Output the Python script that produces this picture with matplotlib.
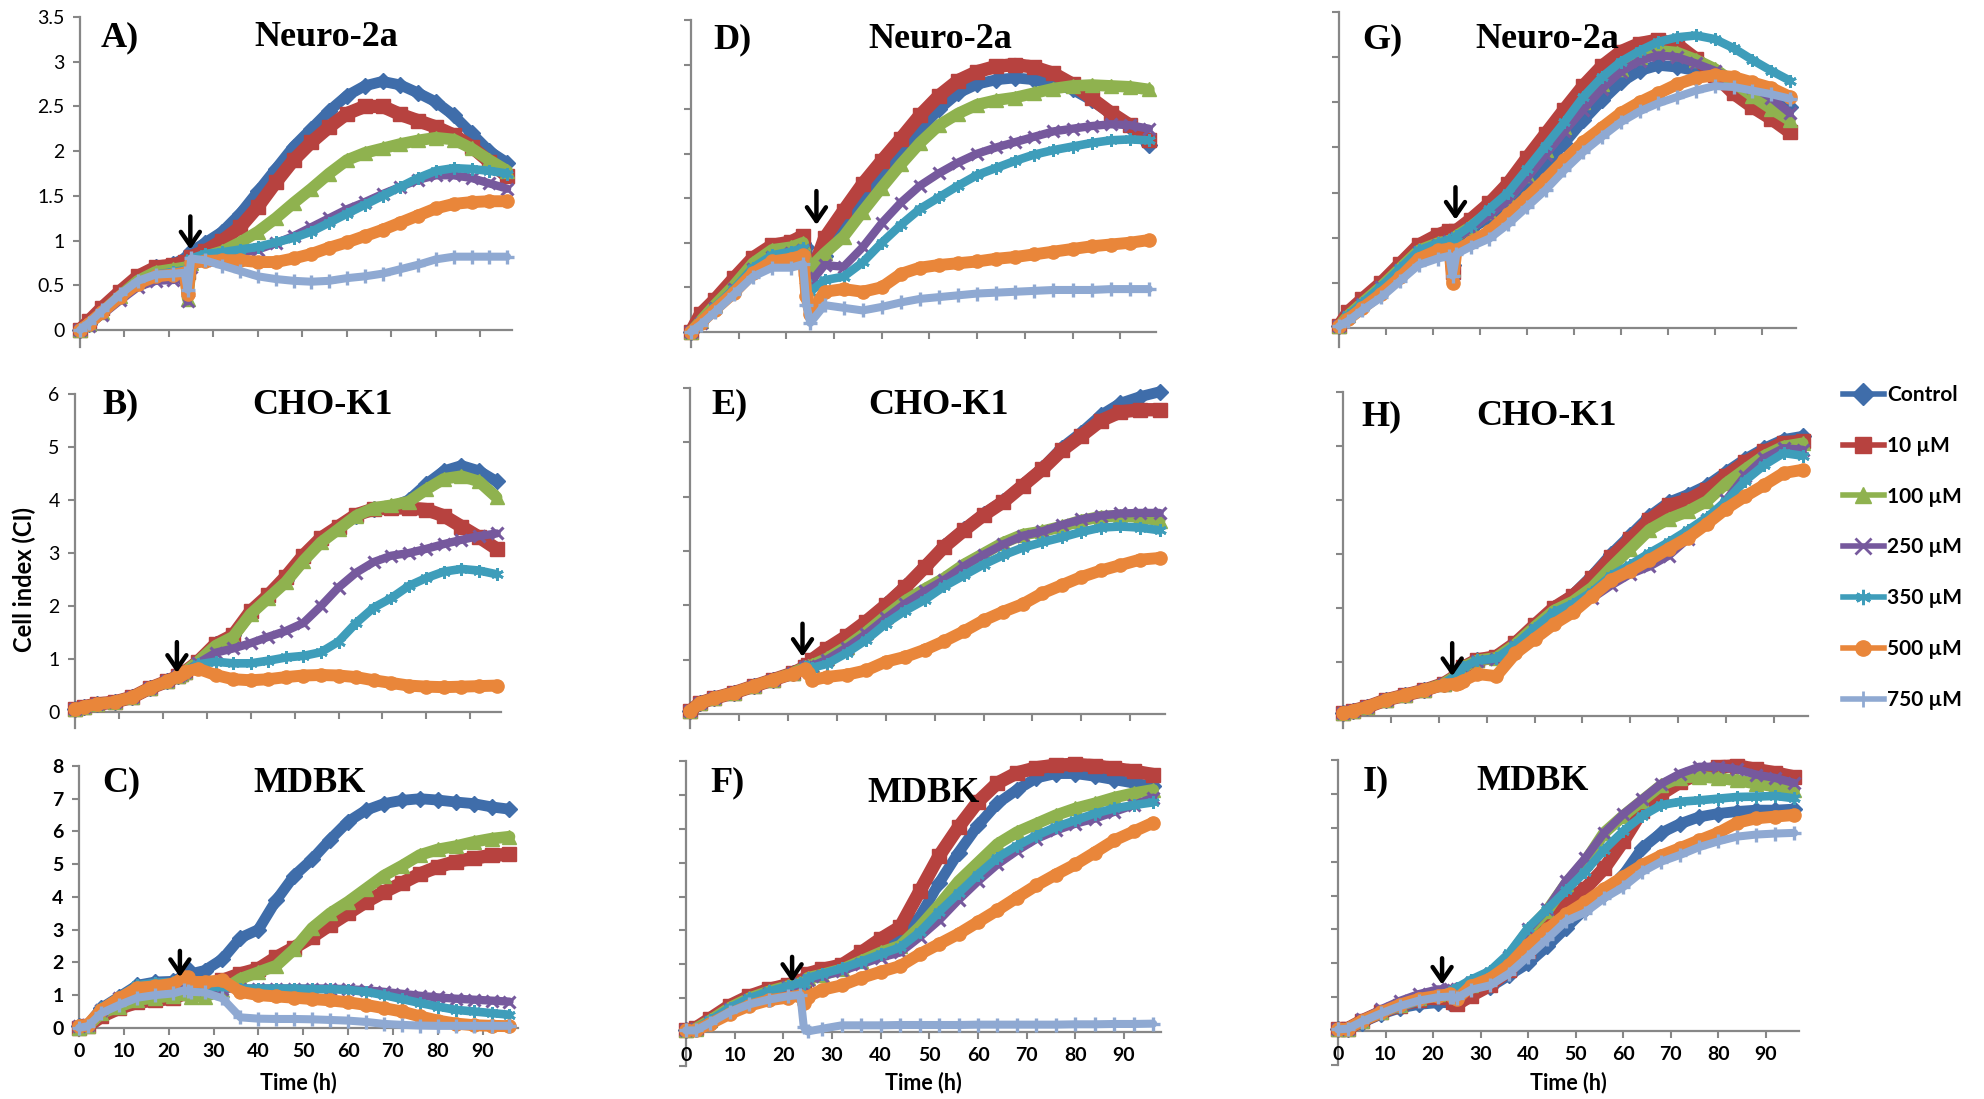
import matplotlib
matplotlib.use('Agg')
import matplotlib.pyplot as plt
from matplotlib.lines import Line2D
from matplotlib.ticker import FuncFormatter
import numpy as np

# ---------------- data ----------------
T = [0, 2, 5, 9, 13, 17, 21, 23.5, 24.2, 25, 28, 32, 36, 40, 44, 48, 52, 56, 60,
     64, 68, 72, 76, 80, 84, 88, 92, 96]

SERIES = ['Control', '10 µM', '100 µM', '250 µM', '350 µM', '500 µM', '750 µM']

# A) Neuro-2a
A_ctrl = [0, 0.07, 0.22, 0.40, 0.58, 0.70, 0.74, 0.80, 0.78, 0.88, 0.97, 1.10, 1.30, 1.55, 1.80, 2.05, 2.25, 2.45, 2.62, 2.73, 2.78, 2.74, 2.65, 2.55, 2.40, 2.20, 2.00, 1.87]
A_10 = [0, 0.10, 0.25, 0.43, 0.60, 0.70, 0.73, 0.76, 0.65, 0.82, 0.88, 1.00, 1.15, 1.38, 1.65, 1.90, 2.10, 2.27, 2.42, 2.50, 2.50, 2.41, 2.34, 2.27, 2.18, 2.05, 1.88, 1.72]
A_100 = [0, 0.07, 0.20, 0.38, 0.55, 0.65, 0.68, 0.70, 0.35, 0.75, 0.82, 0.88, 0.98, 1.10, 1.25, 1.42, 1.58, 1.75, 1.90, 1.98, 2.03, 2.08, 2.12, 2.15, 2.13, 2.03, 1.90, 1.78]
A_250 = [0, 0.05, 0.17, 0.33, 0.48, 0.55, 0.56, 0.58, 0.32, 0.70, 0.78, 0.82, 0.86, 0.90, 0.97, 1.05, 1.15, 1.25, 1.35, 1.43, 1.52, 1.60, 1.68, 1.73, 1.73, 1.70, 1.64, 1.58]
A_350 = [0, 0.06, 0.20, 0.37, 0.53, 0.62, 0.65, 0.67, 0.40, 0.80, 0.85, 0.87, 0.90, 0.93, 0.98, 1.03, 1.10, 1.20, 1.30, 1.40, 1.50, 1.60, 1.70, 1.78, 1.81, 1.80, 1.78, 1.75]
A_500 = [0, 0.07, 0.20, 0.37, 0.52, 0.60, 0.62, 0.64, 0.40, 0.75, 0.77, 0.78, 0.78, 0.76, 0.76, 0.80, 0.85, 0.92, 0.98, 1.05, 1.12, 1.20, 1.28, 1.36, 1.41, 1.43, 1.44, 1.44]
A_750 = [0, 0.08, 0.22, 0.40, 0.55, 0.62, 0.63, 0.64, 0.45, 0.80, 0.78, 0.72, 0.66, 0.60, 0.57, 0.55, 0.54, 0.55, 0.58, 0.60, 0.63, 0.68, 0.73, 0.79, 0.82, 0.82, 0.82, 0.82]

# B) CHO-K1 (no 750 µM curve)
B_ctrl = [0.05, 0.10, 0.15, 0.19, 0.28, 0.45, 0.58, 0.68, 0.72, 0.76, 0.95, 1.28, 1.45, 1.90, 2.20, 2.50, 2.90, 3.25, 3.50, 3.70, 3.83, 3.87, 4.00, 4.30, 4.55, 4.65, 4.55, 4.35]
B_10 = [0.05, 0.10, 0.15, 0.19, 0.28, 0.45, 0.58, 0.68, 0.72, 0.76, 0.95, 1.28, 1.45, 1.90, 2.20, 2.55, 2.95, 3.28, 3.50, 3.72, 3.83, 3.85, 3.85, 3.82, 3.70, 3.50, 3.30, 3.08]
B_100 = [0.05, 0.10, 0.15, 0.19, 0.28, 0.45, 0.58, 0.68, 0.72, 0.76, 0.95, 1.25, 1.42, 1.85, 2.15, 2.45, 2.85, 3.20, 3.45, 3.70, 3.85, 3.90, 3.97, 4.20, 4.40, 4.45, 4.35, 4.05]
B_250 = [0.05, 0.10, 0.15, 0.19, 0.28, 0.45, 0.58, 0.68, 0.72, 0.76, 0.92, 1.12, 1.20, 1.30, 1.42, 1.53, 1.68, 2.00, 2.35, 2.63, 2.83, 2.95, 3.00, 3.08, 3.17, 3.25, 3.32, 3.37]
B_350 = [0.05, 0.10, 0.15, 0.19, 0.28, 0.45, 0.58, 0.68, 0.72, 0.76, 0.90, 0.95, 0.92, 0.92, 0.97, 1.03, 1.06, 1.13, 1.33, 1.68, 1.97, 2.15, 2.38, 2.53, 2.65, 2.70, 2.67, 2.60]
B_500 = [0.05, 0.10, 0.15, 0.19, 0.28, 0.45, 0.58, 0.68, 0.72, 0.76, 0.82, 0.70, 0.62, 0.60, 0.62, 0.66, 0.69, 0.70, 0.69, 0.66, 0.60, 0.55, 0.50, 0.48, 0.47, 0.48, 0.49, 0.50]
B_750 = None

# C) MDBK
C_ctrl = [0.05, 0.10, 0.60, 0.95, 1.30, 1.40, 1.42, 1.60, 1.80, 1.65, 1.75, 2.10, 2.75, 3.00, 3.90, 4.65, 5.15, 5.75, 6.30, 6.65, 6.85, 6.95, 7.00, 6.96, 6.90, 6.85, 6.75, 6.68]
C_10 = [0.00, 0.05, 0.35, 0.60, 0.78, 0.85, 0.90, 1.05, 1.10, 1.05, 1.30, 1.45, 1.65, 1.80, 2.15, 2.45, 2.78, 3.15, 3.50, 3.85, 4.15, 4.42, 4.70, 4.92, 5.08, 5.18, 5.27, 5.30]
C_100 = [0.00, 0.05, 0.45, 0.65, 0.85, 0.92, 0.98, 1.05, 1.10, 0.95, 0.95, 1.15, 1.50, 1.70, 1.90, 2.40, 3.05, 3.50, 3.85, 4.25, 4.65, 4.95, 5.28, 5.45, 5.55, 5.68, 5.78, 5.84]
C_250 = [0.05, 0.10, 0.55, 0.90, 1.20, 1.30, 1.35, 1.40, 1.35, 1.25, 1.20, 1.20, 1.20, 1.20, 1.20, 1.20, 1.20, 1.20, 1.18, 1.15, 1.10, 1.04, 0.98, 0.93, 0.89, 0.86, 0.83, 0.80]
C_350 = [0.05, 0.10, 0.60, 0.95, 1.30, 1.38, 1.40, 1.45, 1.40, 1.30, 1.25, 1.25, 1.20, 1.20, 1.20, 1.20, 1.18, 1.18, 1.16, 1.10, 1.00, 0.88, 0.76, 0.65, 0.55, 0.50, 0.45, 0.40]
C_500 = [0.05, 0.10, 0.55, 0.90, 1.22, 1.27, 1.35, 1.55, 1.55, 1.40, 1.40, 1.45, 1.10, 1.00, 0.96, 0.92, 0.88, 0.84, 0.78, 0.70, 0.60, 0.50, 0.35, 0.22, 0.13, 0.08, 0.06, 0.05]
C_750 = [0.00, 0.05, 0.45, 0.70, 0.92, 1.00, 1.05, 1.15, 1.12, 1.10, 1.08, 0.90, 0.32, 0.28, 0.27, 0.27, 0.26, 0.24, 0.22, 0.18, 0.12, 0.09, 0.07, 0.06, 0.06, 0.06, 0.06, 0.06]

# D) Neuro-2a
D_ctrl = [0, 0.12, 0.30, 0.52, 0.76, 0.90, 0.94, 1.00, 0.95, 0.70, 0.85, 1.17, 1.47, 1.73, 2.02, 2.27, 2.50, 2.68, 2.78, 2.83, 2.85, 2.83, 2.78, 2.72, 2.60, 2.45, 2.30, 2.10]
D_10 = [0, 0.20, 0.36, 0.60, 0.83, 0.97, 1.01, 1.08, 0.70, 0.60, 1.05, 1.36, 1.66, 1.92, 2.17, 2.43, 2.65, 2.82, 2.92, 2.98, 3.00, 2.97, 2.90, 2.78, 2.62, 2.46, 2.32, 2.15]
D_100 = [0, 0.12, 0.30, 0.52, 0.77, 0.92, 0.95, 1.00, 0.80, 0.72, 0.88, 1.07, 1.35, 1.62, 1.88, 2.12, 2.32, 2.45, 2.55, 2.60, 2.63, 2.68, 2.73, 2.76, 2.77, 2.76, 2.75, 2.72]
D_250 = [0, 0.10, 0.27, 0.48, 0.70, 0.84, 0.88, 0.92, 0.60, 0.55, 0.75, 0.73, 0.95, 1.22, 1.45, 1.64, 1.78, 1.90, 2.00, 2.07, 2.13, 2.19, 2.25, 2.28, 2.31, 2.33, 2.32, 2.28]
D_350 = [0, 0.12, 0.28, 0.48, 0.72, 0.86, 0.90, 0.94, 0.55, 0.45, 0.58, 0.62, 0.78, 1.00, 1.20, 1.38, 1.51, 1.64, 1.76, 1.84, 1.92, 1.99, 2.04, 2.08, 2.12, 2.15, 2.16, 2.15]
D_500 = [0, 0.10, 0.25, 0.44, 0.66, 0.79, 0.82, 0.86, 0.40, 0.20, 0.45, 0.48, 0.45, 0.50, 0.65, 0.72, 0.75, 0.77, 0.79, 0.82, 0.84, 0.87, 0.90, 0.93, 0.96, 0.98, 1.00, 1.03]
D_750 = [0, 0.08, 0.22, 0.42, 0.62, 0.72, 0.72, 0.76, 0.30, 0.10, 0.30, 0.27, 0.24, 0.28, 0.33, 0.37, 0.39, 0.41, 0.43, 0.44, 0.45, 0.46, 0.47, 0.47, 0.47, 0.48, 0.48, 0.48]

# E) CHO-K1 (no 750 µM curve)
E_ctrl = [0.05, 0.20, 0.29, 0.39, 0.51, 0.63, 0.75, 0.86, 0.90, 1.00, 1.20, 1.43, 1.70, 2.02, 2.35, 2.72, 3.10, 3.40, 3.68, 3.92, 4.22, 4.52, 4.90, 5.18, 5.50, 5.72, 5.84, 5.93]
E_10 = [0.05, 0.20, 0.29, 0.39, 0.51, 0.63, 0.75, 0.86, 0.90, 1.00, 1.20, 1.43, 1.70, 2.00, 2.33, 2.70, 3.08, 3.38, 3.66, 3.90, 4.20, 4.50, 4.85, 5.12, 5.40, 5.56, 5.60, 5.60]
E_100 = [0.05, 0.20, 0.29, 0.39, 0.51, 0.63, 0.75, 0.86, 0.88, 0.90, 1.02, 1.24, 1.50, 1.80, 2.08, 2.30, 2.50, 2.75, 2.95, 3.15, 3.30, 3.36, 3.45, 3.56, 3.63, 3.65, 3.62, 3.56]
E_250 = [0.05, 0.20, 0.29, 0.39, 0.51, 0.63, 0.75, 0.86, 0.88, 0.88, 1.00, 1.22, 1.47, 1.76, 2.03, 2.26, 2.47, 2.72, 2.93, 3.12, 3.28, 3.36, 3.48, 3.58, 3.65, 3.69, 3.70, 3.70]
E_350 = [0.05, 0.20, 0.29, 0.39, 0.51, 0.63, 0.75, 0.86, 0.87, 0.85, 0.92, 1.12, 1.36, 1.66, 1.90, 2.10, 2.35, 2.55, 2.75, 2.92, 3.06, 3.16, 3.25, 3.35, 3.43, 3.45, 3.43, 3.38]
E_500 = [0.05, 0.20, 0.29, 0.39, 0.51, 0.63, 0.74, 0.82, 0.75, 0.62, 0.68, 0.72, 0.80, 0.96, 1.05, 1.18, 1.34, 1.52, 1.72, 1.88, 2.02, 2.22, 2.37, 2.52, 2.64, 2.74, 2.84, 2.87]
E_750 = None

# F) MDBK
F_ctrl = [0.05, 0.10, 0.35, 0.72, 1.00, 1.20, 1.35, 1.45, 1.42, 1.62, 1.75, 1.90, 2.20, 2.45, 2.70, 3.40, 4.40, 5.30, 6.10, 6.75, 7.15, 7.50, 7.63, 7.63, 7.55, 7.45, 7.35, 7.25]
F_10 = [0.05, 0.12, 0.40, 0.78, 1.06, 1.26, 1.40, 1.50, 1.50, 1.72, 1.85, 1.98, 2.35, 2.75, 3.10, 4.15, 5.20, 6.05, 6.80, 7.35, 7.65, 7.80, 7.88, 7.90, 7.86, 7.78, 7.70, 7.60]
F_100 = [0.05, 0.10, 0.35, 0.72, 1.00, 1.20, 1.36, 1.45, 1.42, 1.60, 1.70, 1.85, 2.10, 2.35, 2.55, 3.10, 3.75, 4.45, 5.00, 5.55, 5.90, 6.15, 6.40, 6.60, 6.75, 6.92, 7.05, 7.15]
F_250 = [0.05, 0.08, 0.30, 0.68, 0.96, 1.16, 1.32, 1.42, 1.40, 1.55, 1.65, 1.80, 2.00, 2.20, 2.35, 2.80, 3.30, 3.90, 4.45, 4.95, 5.35, 5.70, 5.95, 6.15, 6.30, 6.50, 6.70, 6.92]
F_350 = [0.05, 0.10, 0.35, 0.72, 1.00, 1.20, 1.36, 1.46, 1.42, 1.60, 1.72, 1.88, 2.08, 2.30, 2.50, 2.95, 3.55, 4.10, 4.65, 5.15, 5.50, 5.80, 6.05, 6.25, 6.45, 6.60, 6.70, 6.78]
F_500 = [0.05, 0.05, 0.25, 0.54, 0.78, 0.94, 1.02, 1.08, 0.85, 1.05, 1.25, 1.38, 1.60, 1.78, 1.95, 2.30, 2.60, 2.90, 3.25, 3.60, 3.97, 4.33, 4.65, 4.95, 5.30, 5.66, 5.92, 6.18]
F_750 = [0.05, 0.05, 0.28, 0.60, 0.82, 0.96, 1.06, 1.10, 0.15, 0.02, 0.10, 0.20, 0.20, 0.20, 0.21, 0.21, 0.21, 0.21, 0.22, 0.22, 0.22, 0.22, 0.22, 0.23, 0.23, 0.24, 0.24, 0.25]

# G) Neuro-2a
G_ctrl = [0.02, 0.12, 0.27, 0.45, 0.64, 0.85, 0.92, 0.96, 0.70, 1.00, 1.10, 1.22, 1.35, 1.58, 1.80, 2.05, 2.30, 2.52, 2.72, 2.85, 2.91, 2.89, 2.85, 2.80, 2.74, 2.68, 2.60, 2.45]
G_10 = [0.02, 0.18, 0.32, 0.50, 0.71, 0.92, 1.03, 1.08, 0.62, 1.08, 1.20, 1.38, 1.60, 1.88, 2.15, 2.42, 2.68, 2.90, 3.06, 3.15, 3.19, 3.14, 2.98, 2.80, 2.60, 2.45, 2.32, 2.17]
G_100 = [0.02, 0.14, 0.28, 0.46, 0.66, 0.86, 0.94, 0.97, 0.65, 1.02, 1.12, 1.28, 1.45, 1.70, 1.97, 2.23, 2.50, 2.70, 2.87, 3.00, 3.07, 3.05, 2.97, 2.87, 2.72, 2.57, 2.43, 2.30]
G_250 = [0.02, 0.12, 0.27, 0.45, 0.64, 0.84, 0.92, 0.96, 0.60, 1.00, 1.10, 1.25, 1.42, 1.66, 1.92, 2.18, 2.42, 2.65, 2.84, 2.96, 3.02, 3.00, 2.93, 2.85, 2.76, 2.67, 2.55, 2.38]
G_350 = [0.02, 0.14, 0.28, 0.46, 0.66, 0.86, 0.94, 0.98, 0.70, 1.02, 1.13, 1.32, 1.50, 1.76, 2.02, 2.28, 2.56, 2.78, 2.95, 3.07, 3.17, 3.22, 3.24, 3.20, 3.10, 2.97, 2.85, 2.74]
G_500 = [0.02, 0.10, 0.22, 0.38, 0.56, 0.77, 0.86, 0.88, 0.50, 0.86, 0.95, 1.07, 1.26, 1.45, 1.65, 1.86, 2.06, 2.22, 2.38, 2.50, 2.60, 2.70, 2.77, 2.80, 2.78, 2.72, 2.66, 2.56]
G_750 = [0.02, 0.08, 0.20, 0.34, 0.52, 0.70, 0.77, 0.80, 0.58, 0.82, 0.90, 0.99, 1.15, 1.34, 1.53, 1.75, 1.95, 2.12, 2.28, 2.40, 2.49, 2.56, 2.63, 2.68, 2.67, 2.63, 2.59, 2.54]

# H) CHO-K1 (no 750 µM curve)
H_ctrl = [0.05, 0.10, 0.17, 0.30, 0.39, 0.48, 0.60, 0.74, 0.80, 0.90, 1.04, 1.10, 1.35, 1.68, 2.00, 2.25, 2.60, 3.00, 3.35, 3.70, 3.96, 4.10, 4.27, 4.52, 4.76, 4.96, 5.12, 5.18]
H_10 = [0.05, 0.10, 0.17, 0.30, 0.39, 0.48, 0.60, 0.74, 0.80, 0.90, 1.04, 1.10, 1.35, 1.68, 2.00, 2.22, 2.55, 2.94, 3.28, 3.63, 3.90, 4.00, 4.19, 4.45, 4.70, 4.90, 5.06, 5.09]
H_100 = [0.05, 0.10, 0.17, 0.30, 0.39, 0.48, 0.60, 0.74, 0.80, 0.90, 1.03, 1.08, 1.33, 1.65, 1.95, 2.12, 2.38, 2.75, 3.10, 3.45, 3.65, 3.79, 3.98, 4.31, 4.57, 4.82, 4.99, 5.05]
H_250 = [0.05, 0.10, 0.17, 0.30, 0.39, 0.48, 0.60, 0.74, 0.80, 0.90, 1.02, 1.06, 1.30, 1.60, 1.85, 2.00, 2.18, 2.42, 2.63, 2.77, 2.97, 3.28, 3.63, 4.00, 4.45, 4.78, 4.96, 4.93]
H_350 = [0.05, 0.10, 0.17, 0.30, 0.39, 0.48, 0.60, 0.74, 0.80, 0.90, 1.03, 1.07, 1.32, 1.63, 1.92, 2.08, 2.30, 2.60, 2.80, 3.02, 3.22, 3.44, 3.68, 3.98, 4.36, 4.65, 4.87, 4.82]
H_500 = [0.05, 0.10, 0.17, 0.30, 0.39, 0.48, 0.58, 0.60, 0.62, 0.65, 0.78, 0.74, 1.16, 1.43, 1.70, 1.92, 2.22, 2.52, 2.69, 2.89, 3.10, 3.30, 3.56, 3.84, 4.07, 4.28, 4.50, 4.56]
H_750 = None

# I) MDBK
I_ctrl = [0.05, 0.07, 0.25, 0.50, 0.68, 0.79, 0.84, 0.84, 0.85, 0.90, 1.12, 1.30, 1.65, 2.00, 2.50, 3.05, 3.60, 4.05, 4.60, 5.40, 5.85, 6.12, 6.32, 6.42, 6.48, 6.52, 6.52, 6.55]
I_10 = [0.05, 0.07, 0.30, 0.55, 0.75, 0.92, 1.00, 1.00, 0.85, 0.79, 1.05, 1.35, 1.80, 2.35, 3.15, 3.84, 4.20, 4.80, 5.60, 6.50, 7.00, 7.35, 7.60, 7.80, 7.83, 7.72, 7.62, 7.50]
I_100 = [0.05, 0.07, 0.30, 0.55, 0.78, 0.97, 1.10, 1.15, 1.12, 1.20, 1.35, 1.60, 2.20, 2.95, 3.55, 4.35, 5.00, 5.85, 6.35, 6.80, 7.25, 7.48, 7.51, 7.46, 7.40, 7.30, 7.22, 7.12]
I_250 = [0.05, 0.07, 0.35, 0.64, 0.89, 1.09, 1.23, 1.23, 1.20, 1.25, 1.42, 1.68, 2.20, 3.00, 3.60, 4.44, 5.10, 5.85, 6.40, 6.85, 7.30, 7.60, 7.80, 7.80, 7.72, 7.57, 7.47, 7.32]
I_350 = [0.05, 0.07, 0.25, 0.50, 0.70, 0.88, 1.05, 1.15, 1.20, 1.28, 1.52, 1.78, 2.30, 3.05, 3.60, 4.15, 4.70, 5.35, 5.90, 6.35, 6.67, 6.77, 6.81, 6.86, 6.91, 6.92, 6.94, 6.87]
I_500 = [0.05, 0.07, 0.30, 0.55, 0.78, 0.95, 1.04, 1.09, 1.00, 0.94, 1.33, 1.55, 1.95, 2.55, 3.00, 3.45, 3.80, 4.20, 4.55, 4.90, 5.18, 5.40, 5.63, 5.85, 6.15, 6.28, 6.33, 6.38]
I_750 = [0.05, 0.07, 0.28, 0.52, 0.74, 0.90, 1.00, 1.02, 1.00, 0.98, 1.22, 1.35, 1.70, 2.20, 2.72, 3.25, 3.50, 3.92, 4.25, 4.70, 5.00, 5.20, 5.43, 5.60, 5.74, 5.80, 5.83, 5.85]

# ---------------- style ----------------
COLORS = ['#3F6DAA', '#B7423F', '#8FB24F', '#76599D', '#3E9DBA', '#E9863A', '#8FA9D2']
MARKERS = ['D', 's', '^', 'x', (6, 2, 0), 'o', '+']
LWS = [7.8, 9.6, 8.4, 6.0, 6.2, 8.6, 5.8]
MSS = [8.5, 9.5, 9.5, 8.5, 9.0, 9.5, 10.0]
MEW = [1, 1, 1, 2.2, 2.0, 1, 2.4]
AXC = '#878787'

W, H = 1984, 1099
fig = plt.figure(figsize=(W / 100, H / 100), dpi=100)
fig.patch.set_facecolor('white')

TICK_FONT = 'Lato'
SERIF = 'Liberation Serif'
TSIZE = 26

panels = [
    # key, title, data, (left, right, bottom_px, top_px), ylim, ystep, xmax, row, col, arrow(t, ytop, ybot), letter pos, title pos
    ('A', 'Neuro-2a', [A_ctrl, A_10, A_100, A_250, A_350, A_500, A_750], (80, 512, 347, 17), (-0.19, 3.5), 0.5, 97.1, 0, 0, (24.8, 1.27, 0.90), (101, 38), (326, 38)),
    ('B', 'CHO-K1', [B_ctrl, B_10, B_100, B_250, B_350, B_500, B_750], (75, 501, 728, 394), (-0.3, 6), 1, 97.0, 1, 0, (23.2, 1.32, 0.74), (102, 405), (323, 405)),
    ('C', 'MDBK', [C_ctrl, C_10, C_100, C_250, C_350, C_500, C_750], (79, 518, 1036, 766), (-0.25, 8), 1, 97.9, 2, 0, (22.5, 2.35, 1.55), (102, 783), (310, 783)),
    ('D', 'Neuro-2a', [D_ctrl, D_10, D_100, D_250, D_350, D_500, D_750], (691, 1156, 347, 20), (-0.17, 3.5), 0.5, 97.5, 0, 1, (26.3, 1.58, 1.20), (713, 40), (940, 40)),
    ('E', 'CHO-K1', [E_ctrl, E_10, E_100, E_250, E_350, E_500, E_750], (690, 1165, 728, 388), (-0.26, 6), 1, 97.1, 1, 1, (23.0, 1.66, 1.05), (711, 405), (938, 405)),
    ('F', 'MDBK', [F_ctrl, F_10, F_100, F_250, F_350, F_500, F_750], (686, 1161, 1066, 761), (-1, 8), 1, 97.6, 2, 1, (21.8, 2.22, 1.48), (710, 783), (924, 793)),
    ('G', 'Neuro-2a', [G_ctrl, G_10, G_100, G_250, G_350, G_500, G_750], (1339, 1796, 347, 12), (-0.21, 3.5), 0.5, 97.3, 0, 2, (24.8, 1.56, 1.20), (1362, 40), (1547, 40)),
    ('H', 'CHO-K1', [H_ctrl, H_10, H_100, H_250, H_350, H_500, H_750], (1343, 1808, 728, 392), (-0.22, 6), 1, 97.1, 1, 2, (22.8, 1.35, 0.74), (1361, 417), (1547, 417)),
    ('I', 'MDBK', [I_ctrl, I_10, I_100, I_250, I_350, I_500, I_750], (1338, 1799, 1065, 760), (-1, 8), 1, 97.0, 2, 2, (21.9, 2.15, 1.37), (1363, 782), (1533, 782)),
]

fmt = FuncFormatter(lambda v, p: f'{v:g}')

for (key, title, data, (l, r, b, t), ylim, ystep, xmax, row, col, arrow, lpos, tpos) in panels:
    ax = fig.add_axes([l / W, 1 - b / H, (r - l) / W, (b - t) / H])
    for i, vals in enumerate(data):
        if vals is None:
            continue
        ax.plot(T, vals, color=COLORS[i], lw=LWS[i], marker=MARKERS[i], ms=MSS[i],
                mew=MEW[i], mec=COLORS[i], mfc=COLORS[i], solid_joinstyle='round',
                solid_capstyle='round', clip_on=False, zorder=2 + i)
    ax.set_xlim(0, xmax)
    ax.set_ylim(*ylim)
    for s in ('top', 'right'):
        ax.spines[s].set_visible(False)
    ax.spines['bottom'].set_position(('data', 0))
    for s in ('left', 'bottom'):
        ax.spines[s].set_color(AXC)
        ax.spines[s].set_linewidth(1.6)
        ax.spines[s].set_zorder(1)
    yt = list(np.arange(0, ylim[1] + 1e-6, ystep))
    if ylim[0] <= -1:
        yt = [-1] + yt
    ax.set_yticks(yt)
    ax.set_xticks(np.arange(0, 91, 10))
    ax.yaxis.set_major_formatter(fmt)
    ax.tick_params(axis='both', direction='out', length=5, width=1.5, color=AXC,
                   labelsize=14, pad=6)
    bold_y = (key == 'C')
    for lab in ax.get_yticklabels():
        lab.set_fontfamily(TICK_FONT)
        lab.set_fontweight('bold' if bold_y else 'normal')
    for lab in ax.get_xticklabels():
        lab.set_fontfamily(TICK_FONT)
        lab.set_fontweight('bold')
    if col != 0:
        ax.tick_params(axis='y', labelleft=False)
    if row != 2:
        ax.tick_params(axis='x', labelbottom=False)
    else:
        fig.text(((l + r) / 2) / W, 1 - 1083 / H, 'Time (h)', ha='center', va='center',
                 fontsize=15.5, fontweight='bold', family=TICK_FONT)
    ax.patch.set_alpha(0)
    # injection arrow
    ta, y1, y2 = arrow
    ax.annotate('', xy=(ta, y2), xytext=(ta, y1),
                arrowprops=dict(arrowstyle='->,head_length=0.55,head_width=0.38',
                                lw=3.2, color='black', shrinkA=0, shrinkB=0,
                                mutation_scale=18), zorder=20)
    fig.text(lpos[0] / W, 1 - lpos[1] / H, key + ')', ha='left', va='center',
             fontsize=TSIZE, fontweight='bold', family=SERIF)
    fig.text(tpos[0] / W, 1 - tpos[1] / H, title, ha='center', va='center',
             fontsize=TSIZE, fontweight='bold', family=SERIF, zorder=30)

fig.text(24 / W, 1 - 580 / H, 'Cell index (CI)', rotation=90, ha='center', va='center',
         fontsize=17, fontweight='bold', family=TICK_FONT)

handles = [Line2D([], [], color=COLORS[i], lw=4, marker=MARKERS[i], ms=11,
                  mew=2 if i in (3, 4, 6) else 1, mec=COLORS[i], mfc=COLORS[i])
           for i in range(7)]
fig.legend(handles, SERIES, loc='upper left', bbox_to_anchor=(1843 / W, 1 - 385 / H),
           frameon=False, prop=dict(family=TICK_FONT, weight='bold', size=15),
           handlelength=1.95, handletextpad=0.15, labelspacing=1.48,
           borderaxespad=0, borderpad=0)

fig.savefig('out.png', dpi=100, facecolor='white')
